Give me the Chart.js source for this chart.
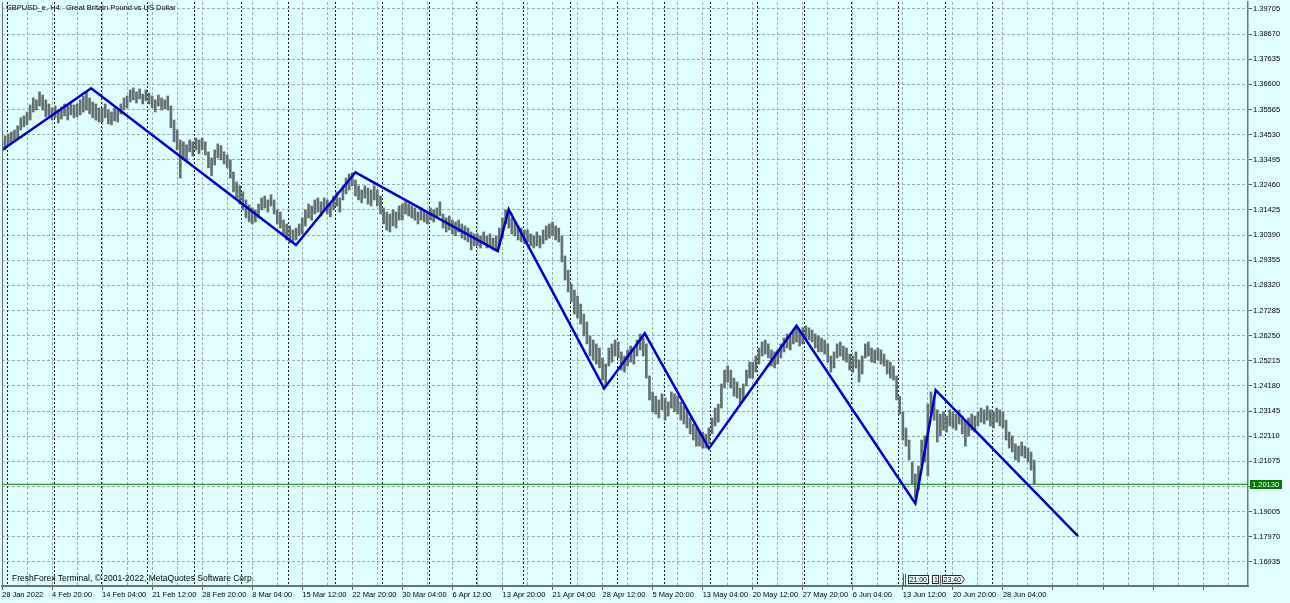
<!DOCTYPE html>
<html>
<head>
<meta charset="utf-8">
<title>GBPUSD_e, H4</title>
<script src="https://cdn.jsdelivr.net/npm/chart.js@4.4.1/dist/chart.umd.min.js"></script>
<style>
  html, body { margin: 0; padding: 0; background: #e0ffff; }
  #wrap { width: 1290px; height: 603px; }
</style>
</head>
<body>
<div id="wrap"><canvas id="chart" width="1290" height="603"></canvas></div>
<script>
// time axis labels, one every 32 H4 bars
const timeLabels = ['28 Jan 2022', '4 Feb 20:00', '14 Feb 04:00', '21 Feb 12:00', '28 Feb 20:00',
  '8 Mar 04:00', '15 Mar 12:00', '22 Mar 20:00', '30 Mar 04:00', '6 Apr 12:00', '13 Apr 20:00',
  '21 Apr 04:00', '28 Apr 12:00', '5 May 20:00', '13 May 04:00', '20 May 12:00', '27 May 20:00',
  '6 Jun 04:00', '13 Jun 12:00', '20 Jun 20:00', '28 Jun 04:00'];

const priceTicks = [1.39705, 1.38670, 1.37635, 1.36600, 1.35565, 1.34530, 1.33495, 1.32460,
  1.31425, 1.30390, 1.29355, 1.28320, 1.27285, 1.26250, 1.25215, 1.24180, 1.23145, 1.22110,
  1.21075, 1.20040, 1.19005, 1.17970, 1.16935];

// bar index of each Monday 00:00 (period separators)
const weekStarts = [3, 33, 63, 93, 123, 153, 183, 213, 243, 273, 303, 333, 363, 393, 423, 453,
  483, 513, 543, 573, 603, 633];

// price bars, each one covers two H4 bars
const barHigh = [
  1.3431, 1.3448, 1.3456, 1.3464, 1.3472, 1.3489, 1.3522, 1.3530,
  1.3546, 1.3575, 1.3604, 1.3596, 1.3629, 1.3616, 1.3596, 1.3579,
  1.3563, 1.3571, 1.3554, 1.3567, 1.3579, 1.3571, 1.3583, 1.3575,
  1.3579, 1.3596, 1.3612, 1.3629, 1.3604, 1.3587, 1.3579, 1.3563,
  1.3563, 1.3579, 1.3554, 1.3546, 1.3563, 1.3554, 1.3579, 1.3604,
  1.3612, 1.3637, 1.3645, 1.3629, 1.3641, 1.3620, 1.3637, 1.3624,
  1.3612, 1.3596, 1.3616, 1.3604, 1.3596, 1.3612, 1.3571, 1.3513,
  1.3472, 1.3431, 1.3423, 1.3411, 1.3431, 1.3423, 1.3439, 1.3431,
  1.3439, 1.3423, 1.3382, 1.3357, 1.3390, 1.3415, 1.3407, 1.3382,
  1.3369, 1.3349, 1.3299, 1.3258, 1.3242, 1.3217, 1.3184, 1.3163,
  1.3151, 1.3143, 1.3167, 1.3192, 1.3200, 1.3184, 1.3205, 1.3184,
  1.3143, 1.3134, 1.3101, 1.3085, 1.3077, 1.3060, 1.3068, 1.3085,
  1.3110, 1.3143, 1.3167, 1.3159, 1.3184, 1.3192, 1.3176, 1.3192,
  1.3184, 1.3167, 1.3200, 1.3217, 1.3192, 1.3242, 1.3274, 1.3291,
  1.3295, 1.3266, 1.3242, 1.3225, 1.3242, 1.3233, 1.3225, 1.3242,
  1.3225, 1.3200, 1.3151, 1.3134, 1.3126, 1.3143, 1.3134, 1.3159,
  1.3167, 1.3176, 1.3167, 1.3159, 1.3151, 1.3134, 1.3151, 1.3143,
  1.3134, 1.3151, 1.3143, 1.3151, 1.3176, 1.3126, 1.3110, 1.3118,
  1.3101, 1.3093, 1.3101, 1.3085, 1.3077, 1.3068, 1.3052, 1.3044,
  1.3044, 1.3036, 1.3052, 1.3036, 1.3044, 1.3027, 1.3036, 1.3068,
  1.3110, 1.3143, 1.3134, 1.3110, 1.3093, 1.3077, 1.3068, 1.3060,
  1.3060, 1.3044, 1.3036, 1.3052, 1.3036, 1.3060, 1.3077, 1.3085,
  1.3093, 1.3077, 1.3068, 1.3036, 1.2953, 1.2895, 1.2838, 1.2813,
  1.2788, 1.2755, 1.2714, 1.2681, 1.2624, 1.2607, 1.2591, 1.2574,
  1.2533, 1.2508, 1.2574, 1.2591, 1.2607, 1.2599, 1.2558, 1.2541,
  1.2566, 1.2582, 1.2574, 1.2607, 1.2632, 1.2615, 1.2591, 1.2459,
  1.2393, 1.2376, 1.2360, 1.2385, 1.2368, 1.2352, 1.2393, 1.2385,
  1.2376, 1.2352, 1.2335, 1.2319, 1.2286, 1.2261, 1.2245, 1.2236,
  1.2228, 1.2220, 1.2245, 1.2286, 1.2327, 1.2343, 1.2426, 1.2483,
  1.2500, 1.2483, 1.2450, 1.2434, 1.2409, 1.2426, 1.2483, 1.2516,
  1.2516, 1.2541, 1.2574, 1.2599, 1.2607, 1.2591, 1.2566, 1.2558,
  1.2566, 1.2591, 1.2615, 1.2632, 1.2624, 1.2648, 1.2665, 1.2648,
  1.2657, 1.2665, 1.2657, 1.2648, 1.2632, 1.2624, 1.2615, 1.2607,
  1.2591, 1.2541, 1.2558, 1.2591, 1.2599, 1.2582, 1.2574, 1.2549,
  1.2541, 1.2558, 1.2525, 1.2541, 1.2591, 1.2599, 1.2574, 1.2566,
  1.2574, 1.2566, 1.2549, 1.2525, 1.2516, 1.2500, 1.2459, 1.2376,
  1.2311, 1.2245, 1.2195, 1.2104, 1.2055, 1.2088, 1.2195, 1.2212,
  1.2343, 1.2393, 1.2376, 1.2319, 1.2302, 1.2311, 1.2294, 1.2319,
  1.2311, 1.2302, 1.2319, 1.2294, 1.2277, 1.2286, 1.2302, 1.2294,
  1.2311, 1.2327, 1.2319, 1.2335, 1.2319, 1.2311, 1.2327, 1.2319,
  1.2311, 1.2277, 1.2228, 1.2212, 1.2179, 1.2170, 1.2187, 1.2170,
  1.2162, 1.2146, 1.2113
];
const barLow = [
  1.3382, 1.3390, 1.3407, 1.3419, 1.3431, 1.3439, 1.3472, 1.3485,
  1.3493, 1.3513, 1.3546, 1.3554, 1.3571, 1.3554, 1.3526, 1.3530,
  1.3513, 1.3522, 1.3501, 1.3517, 1.3530, 1.3513, 1.3534, 1.3522,
  1.3526, 1.3534, 1.3546, 1.3554, 1.3538, 1.3522, 1.3513, 1.3505,
  1.3505, 1.3522, 1.3497, 1.3493, 1.3509, 1.3505, 1.3538, 1.3554,
  1.3563, 1.3587, 1.3596, 1.3583, 1.3600, 1.3579, 1.3592, 1.3579,
  1.3563, 1.3546, 1.3571, 1.3554, 1.3559, 1.3554, 1.3481, 1.3423,
  1.3390, 1.3274, 1.3349, 1.3341, 1.3382, 1.3365, 1.3390, 1.3374,
  1.3390, 1.3369, 1.3316, 1.3283, 1.3328, 1.3357, 1.3349, 1.3332,
  1.3316, 1.3274, 1.3217, 1.3192, 1.3167, 1.3143, 1.3110, 1.3093,
  1.3085, 1.3093, 1.3110, 1.3143, 1.3151, 1.3134, 1.3159, 1.3126,
  1.3085, 1.3068, 1.3036, 1.3019, 1.3007, 1.3011, 1.3019, 1.3036,
  1.3044, 1.3077, 1.3110, 1.3101, 1.3126, 1.3134, 1.3118, 1.3143,
  1.3126, 1.3114, 1.3143, 1.3159, 1.3134, 1.3184, 1.3209, 1.3225,
  1.3242, 1.3200, 1.3184, 1.3172, 1.3192, 1.3167, 1.3159, 1.3184,
  1.3159, 1.3126, 1.3085, 1.3060, 1.3052, 1.3077, 1.3068, 1.3101,
  1.3101, 1.3126, 1.3118, 1.3110, 1.3101, 1.3085, 1.3101, 1.3093,
  1.3085, 1.3101, 1.3093, 1.3110, 1.3118, 1.3068, 1.3052, 1.3060,
  1.3044, 1.3036, 1.3052, 1.3027, 1.3019, 1.3011, 1.2978, 1.2995,
  1.2995, 1.2986, 1.3003, 1.2986, 1.2995, 1.2978, 1.2978, 1.2995,
  1.3027, 1.3085, 1.3068, 1.3044, 1.3036, 1.3019, 1.3011, 1.3003,
  1.3011, 1.2995, 1.2986, 1.2995, 1.2986, 1.3003, 1.3019, 1.3027,
  1.3036, 1.3019, 1.3011, 1.2929, 1.2854, 1.2805, 1.2764, 1.2714,
  1.2698, 1.2673, 1.2624, 1.2591, 1.2541, 1.2525, 1.2508, 1.2492,
  1.2442, 1.2418, 1.2500, 1.2516, 1.2541, 1.2533, 1.2483, 1.2475,
  1.2500, 1.2516, 1.2508, 1.2541, 1.2566, 1.2541, 1.2450, 1.2360,
  1.2311, 1.2302, 1.2286, 1.2319, 1.2277, 1.2294, 1.2327, 1.2311,
  1.2302, 1.2277, 1.2261, 1.2245, 1.2220, 1.2195, 1.2170, 1.2170,
  1.2162, 1.2162, 1.2179, 1.2220, 1.2253, 1.2269, 1.2327, 1.2409,
  1.2434, 1.2409, 1.2376, 1.2368, 1.2343, 1.2360, 1.2418, 1.2450,
  1.2450, 1.2475, 1.2508, 1.2541, 1.2549, 1.2533, 1.2500, 1.2492,
  1.2508, 1.2533, 1.2558, 1.2574, 1.2566, 1.2591, 1.2599, 1.2582,
  1.2591, 1.2607, 1.2607, 1.2599, 1.2574, 1.2558, 1.2558, 1.2549,
  1.2516, 1.2475, 1.2492, 1.2533, 1.2541, 1.2525, 1.2516, 1.2483,
  1.2475, 1.2492, 1.2434, 1.2467, 1.2533, 1.2541, 1.2516, 1.2512,
  1.2525, 1.2508, 1.2500, 1.2467, 1.2450, 1.2442, 1.2360, 1.2302,
  1.2195, 1.2170, 1.2113, 1.2014, 1.1956, 1.1989, 1.2088, 1.2104,
  1.2047, 1.2302, 1.2277, 1.2187, 1.2212, 1.2236, 1.2228, 1.2253,
  1.2245, 1.2236, 1.2261, 1.2220, 1.2170, 1.2212, 1.2236, 1.2228,
  1.2253, 1.2269, 1.2261, 1.2277, 1.2253, 1.2245, 1.2269, 1.2253,
  1.2245, 1.2195, 1.2162, 1.2146, 1.2113, 1.2104, 1.2129, 1.2121,
  1.2104, 1.2071, 1.2014
];

// zigzag turning points (H4 bar index, price)
const zigzagBars = [0, 57, 188, 226, 317, 324, 385, 411, 452, 508, 584, 597, 688];
const zigzagPrices = [1.33896, 1.36438, 1.29981, 1.32977, 1.29734, 1.31452, 1.24077, 1.26343,
  1.21605, 1.26656, 1.19339, 1.24007, 1.17992];

const bidPrice = 1.20130;

const xMax = 796.7;
const yMin = 1.1594;
const yMax = 1.3999;
const FONT = '"Liberation Sans", Arial, sans-serif';

const gridBars = [];
for (let b = 0; b <= xMax; b += 16) gridBars.push(b);

const priceBars = barHigh.map((h, i) => ({ x: i * 2, y: [barLow[i], h] }));
const zigzag = zigzagBars.map((b, i) => ({ x: b, y: zigzagPrices[i] }));

Chart.defaults.font.family = FONT;
Chart.defaults.font.size = 7.5;
Chart.defaults.color = '#000';

// period separators, captions and the bid price label
const terminalPlugin = {
  id: 'terminal',
  beforeDatasetsDraw(chart) {
    const { ctx, chartArea: a, scales: { x } } = chart;
    ctx.save();
    ctx.strokeStyle = '#1c1c1c';
    ctx.lineWidth = 1;
    ctx.setLineDash([2, 2]);
    weekStarts.forEach(b => {
      const px = Math.round(x.getPixelForValue(b)) + 0.5;
      ctx.beginPath();
      ctx.moveTo(px, a.top);
      ctx.lineTo(px, a.bottom);
      ctx.stroke();
    });
    ctx.restore();
  },
  afterDraw(chart) {
    const { ctx, chartArea: a, scales: { y } } = chart;
    ctx.save();

    // left edge of the chart window
    ctx.strokeStyle = '#6e7474';
    ctx.lineWidth = 1;
    ctx.beginPath();
    ctx.moveTo(a.left + 0.5, a.bottom);
    ctx.lineTo(a.left + 0.5, a.top);
    ctx.stroke();

    ctx.textBaseline = 'middle';
    ctx.textAlign = 'left';
    ctx.fillStyle = '#000';
    ctx.font = '7.5px ' + FONT;
    ctx.fillText('GBPUSD_e, H4:  Great Britain Pound vs US Dollar', 6, 8);

    ctx.font = '8.5px ' + FONT;
    ctx.fillText('FreshForex Terminal, \u00a9 2001-2022, MetaQuotes Software Corp.', 12, 579);

    // bid price label on the price scale
    const py = Math.round(y.getPixelForValue(bidPrice));
    ctx.fillStyle = '#007800';
    ctx.fillRect(a.right + 2, py - 4, 32, 9);
    ctx.fillStyle = '#f2fff2';
    ctx.font = '7.5px ' + FONT;
    ctx.fillText(bidPrice.toFixed(5), a.right + 4, py + 0.5);

    // small time scroller boxes
    ctx.fillStyle = '#5a5a5a';
    ctx.fillRect(903, 574, 1, 12);
    ctx.fillRect(905, 574, 1, 12);
    ctx.fillRect(940, 575, 1, 10);
    ctx.strokeStyle = '#2a2a2a';
    ctx.fillStyle = '#f4ffff';
    ctx.lineWidth = 1;
    [[908.5, 20], [932.5, 6]].forEach(([bx, bw]) => {
      ctx.fillRect(bx, 575.5, bw, 8);
      ctx.strokeRect(bx, 575.5, bw, 8);
    });
    ctx.beginPath();
    ctx.moveTo(942.5, 575.5);
    ctx.lineTo(961.5, 575.5);
    ctx.lineTo(964.5, 579.5);
    ctx.lineTo(961.5, 583.5);
    ctx.lineTo(942.5, 583.5);
    ctx.closePath();
    ctx.fill();
    ctx.stroke();
    ctx.fillStyle = '#000';
    ctx.font = '7px ' + FONT;
    ctx.fillText('21:00', 909.5, 580);
    ctx.fillText('1', 934, 580);
    ctx.fillText('23:40', 943.5, 580);
    ctx.restore();
  }
};

new Chart(document.getElementById('chart'), {
  type: 'bar',
  data: {
    datasets: [
      {
        type: 'bar',
        data: priceBars,
        backgroundColor: '#647070',
        barThickness: 2,
        grouped: false,
        order: 3
      },
      {
        type: 'line',
        data: [{ x: 0, y: bidPrice }, { x: xMax, y: bidPrice }],
        borderColor: '#008000',
        borderWidth: 1,
        pointRadius: 0,
        order: 2
      },
      {
        type: 'line',
        data: zigzag,
        borderColor: '#0000cd',
        borderWidth: 2.5,
        pointRadius: 0,
        tension: 0,
        order: 1
      }
    ]
  },
  options: {
    responsive: false,
    animation: false,
    events: [],
    layout: { padding: { left: 2, top: 2, right: 0, bottom: 0 } },
    plugins: {
      legend: { display: false },
      tooltip: { enabled: false }
    },
    scales: {
      x: {
        type: 'linear',
        min: 0,
        max: xMax,
        offset: false,
        afterBuildTicks: scale => { scale.ticks = gridBars.map(v => ({ value: v })); },
        afterFit: scale => { scale.height = 17; scale.paddingLeft = 0; scale.paddingRight = 0; },
        ticks: {
          autoSkip: false,
          maxRotation: 0,
          align: 'start',
          padding: 0,
          callback: v => (v % 32 === 0 && timeLabels[v / 32]) ? timeLabels[v / 32] : ''
        },
        grid: {
          offset: false,
          color: '#a4a8a8',
          lineWidth: 1,
          tickLength: 4,
          tickBorderDash: [],
          tickColor: c => (c.tick && c.tick.value % 32 === 0) ? '#5a5a5a' : 'rgba(0,0,0,0)'
        },
        border: { display: true, color: '#6e7474', width: 2, dash: [3, 2] }
      },
      y: {
        position: 'right',
        min: yMin,
        max: yMax,
        beginAtZero: false,
        afterBuildTicks: scale => { scale.ticks = priceTicks.map(v => ({ value: v })); },
        afterFit: scale => { scale.width = 42; scale.paddingTop = 0; scale.paddingBottom = 0; },
        ticks: {
          padding: 1,
          callback: v => Number(v).toFixed(5)
        },
        grid: {
          color: '#a4a8a8',
          lineWidth: 1,
          tickLength: 4,
          tickBorderDash: [],
          tickColor: '#5a5a5a'
        },
        border: { display: true, color: '#6e7474', width: 1.5, dash: [3, 2] }
      }
    }
  },
  plugins: [terminalPlugin]
});
</script>
</body>
</html>
